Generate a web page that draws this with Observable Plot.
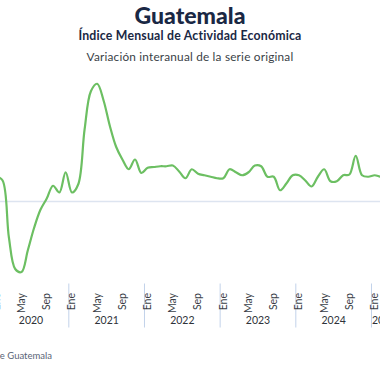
<!DOCTYPE html>
<html>
<head>
<meta charset="utf-8">
<script src="https://cdn.jsdelivr.net/npm/d3@7"></script>
<script src="https://cdn.jsdelivr.net/npm/@observablehq/plot@0.6"></script>
<style>
  html, body { margin: 0; padding: 0; background: #fff; }
  #wrap { position: relative; width: 380px; height: 380px; overflow: hidden; font-family: Lato, "Open Sans", sans-serif; }
  .t { position: absolute; left: 0; width: 380px; text-align: center; white-space: nowrap; }
  #title { top: 1px; font-size: 23px; line-height: 28px; font-weight: 900; color: #1a2844; }
  #sub { top: 29px; font-size: 12.3px; line-height: 14px; font-weight: 700; color: #1a2844; letter-spacing: 0.2px; }
  #sub2 { top: 50px; font-size: 11.8px; line-height: 14px; color: #3a3f47; letter-spacing: 0.2px; }
  #chart { position: absolute; top: 60px; left: 0; }
  #cap { position: absolute; top: 349px; right: 328px; font-size: 9.5px; line-height: 14px; color: #5a6476; white-space: nowrap; }
</style>
</head>
<body>
<div id="wrap">
  <div class="t" id="title">Guatemala</div>
  <div class="t" id="sub">Índice Mensual de Actividad Económica</div>
  <div class="t" id="sub2">Variación interanual de la serie original</div>
  <div id="chart"></div>
  <div id="cap">Fuente: Banco de Guatemala</div>
</div>
<script>
// Month index 0 = Ene 2020; series starts Dic 2019 (index -1)
const firstIndex = -1;
const values = [
  4.0,                                                   // Dic 2019
  3.4, 2.8, -4.8, -9.0, -9.4, -6.5, -3.5, -1.1, 0.4, 2.1, 1.2, 3.9,   // 2020
  1.2, 2.3, 9.6, 14.7, 15.7, 13.5, 10.1, 7.3, 5.6, 4.3, 5.6, 3.8,     // 2021
  4.5, 4.6, 4.7, 4.7, 4.8, 4.0, 3.1, 4.3, 3.7, 3.5, 3.3, 3.1,         // 2022
  3.1, 4.3, 3.9, 3.5, 3.9, 4.8, 4.7, 3.3, 3.3, 1.5, 2.4, 3.5,         // 2023
  3.5, 2.8, 2.0, 3.3, 4.3, 2.7, 2.7, 3.5, 3.6, 6.1, 3.5, 3.3,         // 2024
  3.5, 3.3, 3.3, 3.4                                     // 2025
];
const monthNames = ["Ene", "May", "Sep"];
const monthTicks = [0, 4, 8, 12, 16, 20, 24, 28, 32, 36, 40, 44, 48, 52, 56, 60];
const years = ["2020", "2021", "2022", "2023", "2024", "2025"];
const yearCenters = [5.5, 17.5, 29.5, 41.5, 53.5, 61.5];
const yearSeparators = [11.5, 23.5, 35.5, 47.5, 59.5];

const data = values.map((v, k) => ({i: firstIndex + k, v}));

const chart = Plot.plot({
  width: 380,
  height: 270,
  marginLeft: 0,
  marginRight: 0,
  marginTop: 6,
  marginBottom: 46.5,
  style: {fontFamily: "Lato, 'Open Sans', sans-serif", background: "transparent"},
  x: {type: "linear", domain: [0.666, 60.93], label: null},
  y: {domain: [-11, 18], axis: null},
  marks: [
    Plot.ruleY([0], {stroke: "#dde4f0", strokeWidth: 1.6}),
    Plot.line(data, {x: "i", y: "v", curve: "catmull-rom", stroke: "#6cbf62", strokeWidth: 2.2, clip: true}),
    Plot.axisX(yearSeparators, {tickSize: 44, tickFormat: () => "", stroke: "#c2d2ea", strokeWidth: 1, label: null}),
    Plot.axisX(monthTicks, {tickSize: 0, tickRotate: -90, tickPadding: 9, fontSize: 10.5, fill: "#3a3f47", label: null,
      tickFormat: i => monthNames[(i % 12) / 4]}),
    Plot.axisX(yearCenters, {tickSize: 0, tickPadding: 33, fontSize: 10.5, fill: "#2f333a", label: null,
      tickFormat: (i, k) => years[k]})
  ]
});
document.getElementById("chart").appendChild(chart);
</script>
</body>
</html>
